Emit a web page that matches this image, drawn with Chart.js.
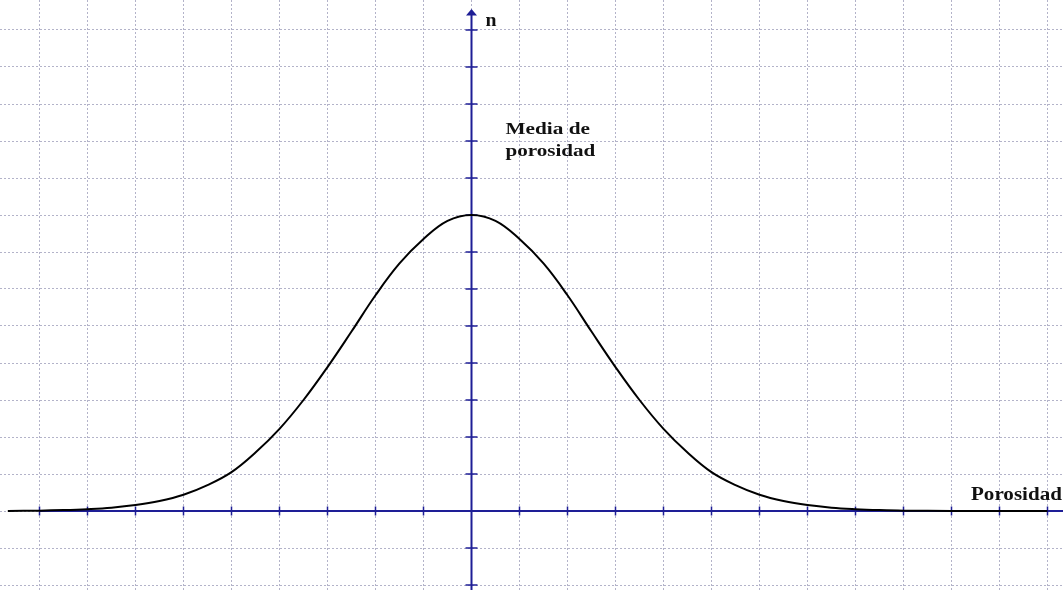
<!DOCTYPE html>
<html><head><meta charset="utf-8">
<script src="https://cdn.jsdelivr.net/npm/chart.js@4.4.1/dist/chart.umd.min.js"></script>
<style>html,body{margin:0;padding:0;background:#fff;overflow:hidden;} #wrap{position:relative;width:1063px;height:590px;}</style>
</head><body><div id="wrap"><canvas id="c"></canvas></div>
<script>
// Data (x in grid units, y = n in grid units)
const porosidad  = [-9.66, -9, -8.5, -8, -7.5, -7, -6.5, -6, -5.5, -5, -4.5, -4, -3.5, -3, -2.5, -2, -1.5, -1, -0.5, 0, 0.5, 1, 1.5, 2, 2.5, 3, 3.5, 4, 4.5, 5, 5.5, 6, 6.5, 7, 7.5, 8, 8.5, 9, 10, 11, 12];
const frecuencia = [0.003, 0.01, 0.025, 0.05, 0.09, 0.16, 0.27, 0.44, 0.7, 1.05, 1.58, 2.22, 3.0, 3.89, 4.85, 5.83, 6.69, 7.35, 7.84, 8.0, 7.84, 7.35, 6.69, 5.83, 4.85, 3.89, 3.0, 2.22, 1.58, 1.05, 0.7, 0.44, 0.27, 0.16, 0.09, 0.05, 0.025, 0.01, 0.002, 0, 0];
const xTicks = [-9, -8, -7, -6, -5, -4, -3, -2, -1, 0, 1, 2, 3, 4, 5, 6, 7, 8, 9, 10, 11, 12];
const yTicks = [-2, -1, 0, 1, 2, 3, 4, 5, 6, 7, 8, 9, 10, 11, 12, 13];
const yAxisLabel = 'n';
const meanLabel = ['Media de', 'porosidad'];
const xAxisLabel = 'Porosidad';

const AXIS = '#1e1e96';
const GRID = '#b3b3c9';

const axesPlugin = {
  id: 'axesPlugin',
  beforeDatasetsDraw(chart) {
    const {ctx, width, height} = chart;
    const xs = chart.scales.x, ys = chart.scales.y;
    const x0 = xs.getPixelForValue(0), y0 = ys.getPixelForValue(0);
    ctx.save();
    ctx.strokeStyle = AXIS; ctx.fillStyle = AXIS;
    ctx.lineWidth = 2;
    ctx.beginPath(); ctx.moveTo(xs.getPixelForValue(xTicks[0]), y0); ctx.lineTo(width, y0); ctx.stroke();
    const tipY = 9;
    ctx.beginPath(); ctx.moveTo(x0, height); ctx.lineTo(x0, tipY + 4); ctx.stroke();
    ctx.beginPath(); ctx.moveTo(x0, tipY); ctx.lineTo(x0 - 5.5, tipY + 6.5); ctx.lineTo(x0 + 5.5, tipY + 6.5); ctx.closePath(); ctx.fill();
    ctx.lineWidth = 1.5;
    xs.ticks.forEach(t => {
      if (t.value === 0) return;
      const px = xs.getPixelForValue(t.value);
      ctx.beginPath(); ctx.moveTo(px, y0 - 4.5); ctx.lineTo(px, y0 + 4.5); ctx.stroke();
    });
    ys.ticks.forEach(t => {
      if (t.value === 0) return;
      const py = ys.getPixelForValue(t.value);
      ctx.beginPath(); ctx.moveTo(x0 - 6, py); ctx.lineTo(x0 + 6, py); ctx.stroke();
    });
    ctx.restore();
  },
  afterDraw(chart) {
    const {ctx} = chart;
    const xs = chart.scales.x, ys = chart.scales.y;
    const x0 = xs.getPixelForValue(0), y0 = ys.getPixelForValue(0);
    const txt = (s, x, y, size, sx) => {
      ctx.save();
      ctx.translate(x, y); ctx.scale(sx, 1);
      ctx.font = 'bold ' + size + 'px "Liberation Serif", "Times New Roman", serif';
      ctx.fillStyle = '#111';
      ctx.textBaseline = 'alphabetic';
      ctx.fillText(s, 0, 0);
      ctx.restore();
    };
    txt(yAxisLabel, x0 + 14, 26, 18, 1.1);
    txt(meanLabel[0], x0 + 34, 134, 17, 1.25);
    txt(meanLabel[1], x0 + 34, 156, 17, 1.24);
    txt(xAxisLabel, 971, y0 - 11, 18, 1.17);
  }
};

new Chart(document.getElementById('c'), {
  type: 'line',
  data: {
    datasets: [{
      data: porosidad.map((v, i) => ({x: v, y: frecuencia[i]})),
      borderColor: '#000',
      borderWidth: 2,
      pointRadius: 0,
      fill: false,
      tension: 0.4
    }]
  },
  options: {
    responsive: true,
    maintainAspectRatio: false,
    animation: false,
    layout: {padding: 0},
    plugins: {legend: {display: false}, tooltip: {enabled: false}},
    scales: {
      x: {
        type: 'linear', min: -471.5 / 48, max: (1063 - 471.5) / 48,
        afterBuildTicks: s => { s.ticks = xTicks.map(v => ({value: v})); },
        afterFit: s => { s.height = 0; },
        ticks: {display: false},
        grid: {color: GRID, lineWidth: 1, drawTicks: false},
        border: {display: false, dash: [2, 2]}
      },
      y: {
        type: 'linear', min: -79 / 37, max: 511 / 37,
        afterBuildTicks: s => { s.ticks = yTicks.map(v => ({value: v})); },
        afterFit: s => { s.width = 0; },
        ticks: {display: false},
        grid: {color: GRID, lineWidth: 1, drawTicks: false},
        border: {display: false, dash: [2, 2]}
      }
    }
  },
  plugins: [axesPlugin]
});
</script>
</body></html>
